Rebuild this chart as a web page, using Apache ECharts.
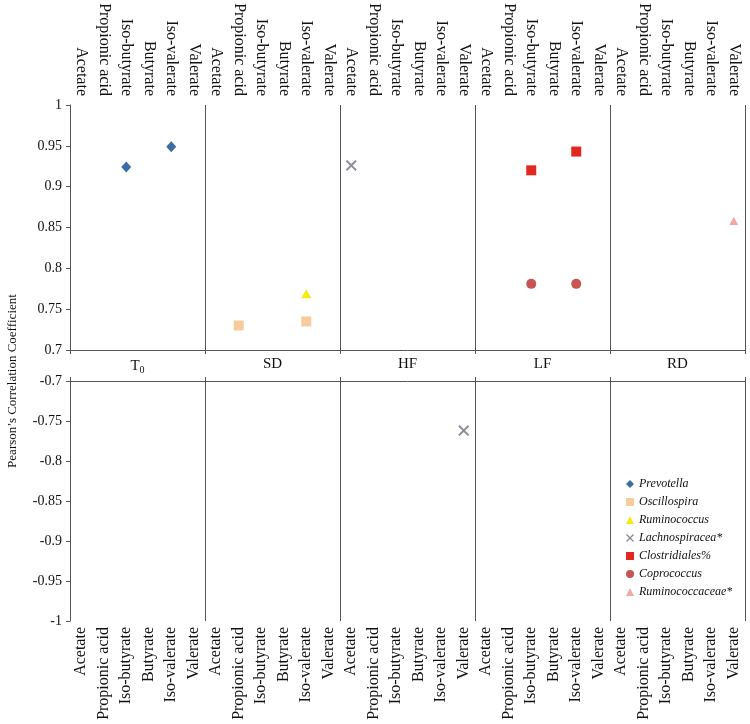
<!DOCTYPE html>
<html>
<head>
<meta charset="utf-8">
<script src="https://cdn.jsdelivr.net/npm/echarts@6/dist/echarts.min.js"></script>
<style>html,body{margin:0;padding:0;background:#fff}#c{width:750px;height:724px}</style>
</head>
<body>
<div id="c"></div>
<script>
const groups = ['T0', 'SD', 'HF', 'LF', 'RD'];
const sfas = ['Acetate', 'Propionic acid', 'Iso-butyrate', 'Butyrate', 'Iso-valerate', 'Valerate'];
const posTicks = [0.7, 1.0, 0.05];
const negTicks = [-1.0, -0.7, 0.05];

// [group, SFA, Pearson r]
const prevotella = [['T0', 'Iso-butyrate', 0.924], ['T0', 'Iso-valerate', 0.949]];
const oscillospira = [['SD', 'Propionic acid', 0.730], ['SD', 'Iso-valerate', 0.735]];
const ruminococcus = [['SD', 'Iso-valerate', 0.769]];
const lachnospiracea = [['HF', 'Acetate', 0.926], ['HF', 'Valerate', -0.762]];
const clostridiales = [['LF', 'Iso-butyrate', 0.920], ['LF', 'Iso-valerate', 0.943]];
const coprococcus = [['LF', 'Iso-butyrate', 0.781], ['LF', 'Iso-valerate', 0.781]];
const ruminococcaceae = [['RD', 'Valerate', 0.858]];

const FONT = 'Liberation Serif';
const AXC = '#555555';
const cats = [];
groups.forEach(g => sfas.forEach(s => cats.push(g + '|' + s)));
const idx = (g, s) => groups.indexOf(g) * sfas.length + sfas.indexOf(s);

const xPath = 'path://M0,1.2L1.2,0L5,3.8L8.8,0L10,1.2L6.2,5L10,8.8L8.8,10L5,6.2L1.2,10L0,8.8L3.8,5Z';

const seriesDefs = [
  {name: 'Prevotella', data: prevotella, symbol: 'diamond', size: [10, 11], color: '#3a6ea5'},
  {name: 'Oscillospira', data: oscillospira, symbol: 'rect', size: 10, color: '#f8cb9d'},
  {name: 'Ruminococcus', data: ruminococcus, symbol: 'triangle', size: [10, 9], color: '#f5ec10'},
  {name: 'Lachnospiracea*', data: lachnospiracea, symbol: xPath, size: 11, color: '#8a8a98'},
  {name: 'Clostridiales%', data: clostridiales, symbol: 'rect', size: 10, color: '#e0281e'},
  {name: 'Coprococcus', data: coprococcus, symbol: 'circle', size: 10, color: '#c85454'},
  {name: 'Ruminococcaceae*', data: ruminococcaceae, symbol: 'triangle', size: [9, 8], color: '#f2a6a6'}
];

const series = [];
seriesDefs.forEach(d => {
  const pos = d.data.filter(r => r[2] > 0).map(r => [idx(r[0], r[1]), r[2]]);
  const neg = d.data.filter(r => r[2] < 0).map(r => [idx(r[0], r[1]), r[2]]);
  [[pos, 0, 0], [neg, 2, 1]].forEach(([pts, xi, yi]) => {
    series.push({
      type: 'scatter', name: d.name, xAxisIndex: xi, yAxisIndex: yi,
      symbol: d.symbol, symbolSize: d.size, data: pts,
      itemStyle: {color: d.color, opacity: 1},
      emphasis: {disabled: true}
    });
  });
});

const sfaLabel = (m) => ({
  show: true, interval: 0, rotate: 90, margin: m,
  fontFamily: FONT, fontSize: 16, color: '#111',
  formatter: (v, i) => sfas[i % sfas.length]
});

const chart = echarts.init(document.getElementById('c'), null, {renderer: 'canvas'});
chart.setOption({
  animation: false,
  backgroundColor: '#fff',
  grid: [
    {left: 70, top: 105, width: 675, height: 245, outerBoundsMode: 'none'},
    {left: 70, top: 381, width: 675, height: 240, outerBoundsMode: 'none'}
  ],
  xAxis: [
    {type: 'category', gridIndex: 0, position: 'top', data: cats, boundaryGap: true,
     axisLine: {show: false}, axisTick: {show: false}, splitLine: {show: false},
     axisLabel: sfaLabel(9)},
    {type: 'category', gridIndex: 0, position: 'bottom', data: groups, boundaryGap: true,
     axisLine: {show: true, lineStyle: {color: AXC, width: 1}},
     axisTick: {show: true, interval: 0, length: 4, lineStyle: {color: AXC}},
     splitLine: {show: true, interval: 0, lineStyle: {color: AXC, width: 1}},
     axisLabel: {show: true, margin: 7, fontFamily: FONT, fontSize: 15, color: '#111',
       formatter: v => v === 'T0' ? '{t|T}{s|0}' : v,
       rich: {t: {fontFamily: FONT, fontSize: 15, color: '#111'},
              s: {fontFamily: FONT, fontSize: 10, color: '#111', padding: [8, 0, 0, 0]}}}},
    {type: 'category', gridIndex: 1, position: 'bottom', data: cats, boundaryGap: true,
     axisLine: {show: false}, axisTick: {show: false}, splitLine: {show: false},
     axisLabel: sfaLabel(6)},
    {type: 'category', gridIndex: 1, position: 'top', data: groups, boundaryGap: true,
     axisLine: {show: true, lineStyle: {color: AXC, width: 1}},
     axisTick: {show: true, interval: 0, length: 4, lineStyle: {color: AXC}},
     splitLine: {show: true, interval: 0, lineStyle: {color: AXC, width: 1}},
     axisLabel: {show: false}}
  ],
  yAxis: [
    {type: 'value', gridIndex: 0, min: posTicks[0], max: posTicks[1], interval: posTicks[2],
     axisLine: {show: true, lineStyle: {color: AXC}},
     axisTick: {show: true, length: 4, lineStyle: {color: AXC}},
     splitLine: {show: false},
     axisLabel: {margin: 8, fontFamily: FONT, fontSize: 14, color: '#111'}},
    {type: 'value', gridIndex: 1, min: negTicks[0], max: negTicks[1], interval: negTicks[2],
     axisLine: {show: true, lineStyle: {color: AXC}},
     axisTick: {show: true, length: 4, lineStyle: {color: AXC}},
     splitLine: {show: false},
     axisLabel: {margin: 8, fontFamily: FONT, fontSize: 14, color: '#111'}}
  ],
  legend: {
    orient: 'vertical', left: 621, top: 473, itemWidth: 8, itemHeight: 8, itemGap: 6,
    data: seriesDefs.map(d => d.name),
    textStyle: {fontFamily: FONT, fontStyle: 'italic', fontSize: 12, color: '#111', lineHeight: 12},
    selectedMode: false
  },
  graphic: [{
    type: 'text', x: 13, y: 381, rotation: Math.PI / 2,
    style: {text: 'Pearson\u2019s Correlation Coefficient', font: '13px "' + FONT + '"',
      fill: '#111', align: 'center', verticalAlign: 'middle'}
  }],
  series: series
});
</script>
</body>
</html>
